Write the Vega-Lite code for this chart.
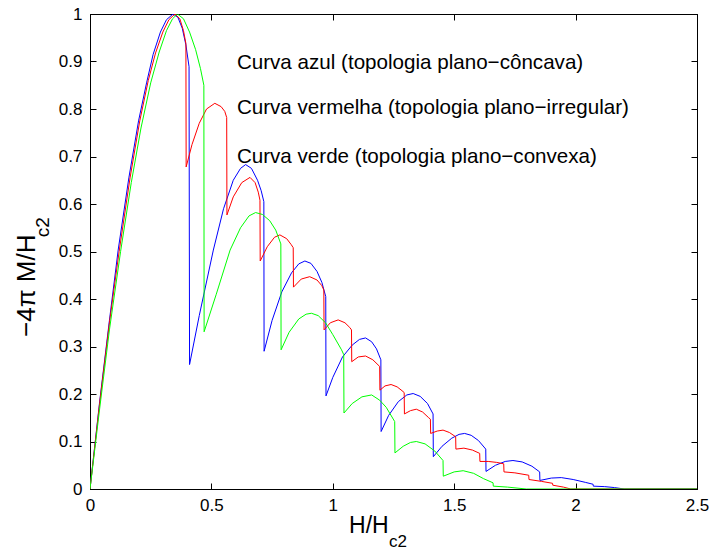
{
  "$schema": "https://vega.github.io/schema/vega-lite/v6.json",
  "width": 607,
  "height": 475,
  "autosize": {"type": "none"},
  "padding": {"left": 90, "top": 14, "right": 15, "bottom": 67},
  "background": "white",
  "config": {
    "view": {"stroke": "black", "strokeWidth": 1},
    "font": "Liberation Sans",
    "axis": {"grid": false, "labelFont": "Liberation Sans", "labelColor": "black", "labelFontSize": 17, "tickColor": "black", "domainColor": "black", "domainWidth": 1, "tickWidth": 1, "labelFlush": false, "labelOverlap": false, "title": null}
  },
  "datasets": {
    "blue": [
      {"h":0,"m":0},{"h":0.04,"m":0.185},{"h":0.08,"m":0.355},{"h":0.116,"m":0.503},{"h":0.16,"m":0.655},{"h":0.2,"m":0.775},{"h":0.233,"m":0.855},{"h":0.26,"m":0.915},{"h":0.29,"m":0.962},{"h":0.315,"m":0.988},{"h":0.342,"m":1.0},{"h":0.362,"m":0.993},{"h":0.38,"m":0.97},{"h":0.395,"m":0.935},{"h":0.408,"m":0.889},
      {"h":0.41,"m":0.262},{"h":0.45,"m":0.365},{"h":0.508,"m":0.503},{"h":0.55,"m":0.59},{"h":0.59,"m":0.65},{"h":0.62,"m":0.675},{"h":0.641,"m":0.683},{"h":0.665,"m":0.675},{"h":0.69,"m":0.65},{"h":0.705,"m":0.628},{"h":0.716,"m":0.605},
      {"h":0.717,"m":0.29},{"h":0.75,"m":0.355},{"h":0.79,"m":0.415},{"h":0.83,"m":0.455},{"h":0.86,"m":0.474},{"h":0.885,"m":0.48},{"h":0.91,"m":0.475},{"h":0.935,"m":0.458},{"h":0.955,"m":0.435},{"h":0.971,"m":0.405},
      {"h":0.972,"m":0.196},{"h":1.0,"m":0.235},{"h":1.04,"m":0.278},{"h":1.08,"m":0.303},{"h":1.11,"m":0.315},{"h":1.135,"m":0.318},{"h":1.16,"m":0.31},{"h":1.18,"m":0.295},{"h":1.198,"m":0.272},
      {"h":1.199,"m":0.121},{"h":1.23,"m":0.155},{"h":1.27,"m":0.184},{"h":1.305,"m":0.198},{"h":1.331,"m":0.201},{"h":1.36,"m":0.195},{"h":1.39,"m":0.18},{"h":1.413,"m":0.158},
      {"h":1.414,"m":0.068},{"h":1.45,"m":0.09},{"h":1.49,"m":0.107},{"h":1.52,"m":0.115},{"h":1.543,"m":0.117},{"h":1.57,"m":0.113},{"h":1.6,"m":0.102},{"h":1.63,"m":0.084},
      {"h":1.631,"m":0.037},{"h":1.67,"m":0.05},{"h":1.71,"m":0.058},{"h":1.742,"m":0.06},{"h":1.78,"m":0.057},{"h":1.82,"m":0.048},{"h":1.852,"m":0.036},
      {"h":1.853,"m":0.018},{"h":1.9,"m":0.023},{"h":1.941,"m":0.024},{"h":1.99,"m":0.02},{"h":2.04,"m":0.014},{"h":2.072,"m":0.01},{"h":2.073,"m":0.006},{"h":2.12,"m":0.005},{"h":2.16,"m":0.003},{"h":2.2,"m":0},{"h":2.5,"m":0}
    ],
    "red": [
      {"h":0,"m":0},{"h":0.04,"m":0.182},{"h":0.08,"m":0.35},{"h":0.12,"m":0.5},{"h":0.165,"m":0.655},{"h":0.205,"m":0.775},{"h":0.24,"m":0.86},{"h":0.27,"m":0.918},{"h":0.3,"m":0.962},{"h":0.325,"m":0.988},{"h":0.35,"m":1.0},{"h":0.37,"m":0.99},{"h":0.385,"m":0.965},{"h":0.395,"m":0.938},
      {"h":0.396,"m":0.678},{"h":0.42,"m":0.725},{"h":0.45,"m":0.77},{"h":0.48,"m":0.8},{"h":0.514,"m":0.812},{"h":0.54,"m":0.805},{"h":0.555,"m":0.795},{"h":0.563,"m":0.782},
      {"h":0.564,"m":0.577},{"h":0.59,"m":0.615},{"h":0.625,"m":0.645},{"h":0.659,"m":0.656},{"h":0.68,"m":0.645},{"h":0.693,"m":0.625},{"h":0.7,"m":0.608},
      {"h":0.701,"m":0.48},{"h":0.73,"m":0.51},{"h":0.76,"m":0.53},{"h":0.782,"m":0.535},{"h":0.81,"m":0.527},{"h":0.828,"m":0.515},{"h":0.837,"m":0.508},
      {"h":0.838,"m":0.425},{"h":0.87,"m":0.442},{"h":0.905,"m":0.447},{"h":0.935,"m":0.44},{"h":0.955,"m":0.428},{"h":0.963,"m":0.419},
      {"h":0.964,"m":0.335},{"h":0.99,"m":0.35},{"h":1.022,"m":0.356},{"h":1.05,"m":0.35},{"h":1.07,"m":0.34},{"h":1.077,"m":0.335},
      {"h":1.078,"m":0.268},{"h":1.105,"m":0.278},{"h":1.135,"m":0.28},{"h":1.165,"m":0.272},{"h":1.193,"m":0.258},
      {"h":1.194,"m":0.208},{"h":1.215,"m":0.217},{"h":1.24,"m":0.22},{"h":1.265,"m":0.215},{"h":1.285,"m":0.207},{"h":1.294,"m":0.203},
      {"h":1.295,"m":0.158},{"h":1.32,"m":0.165},{"h":1.344,"m":0.168},{"h":1.37,"m":0.162},{"h":1.395,"m":0.15},{"h":1.402,"m":0.147},
      {"h":1.403,"m":0.117},{"h":1.43,"m":0.122},{"h":1.454,"m":0.124},{"h":1.48,"m":0.119},{"h":1.506,"m":0.11},
      {"h":1.507,"m":0.084},{"h":1.54,"m":0.086},{"h":1.575,"m":0.082},{"h":1.605,"m":0.075},
      {"h":1.606,"m":0.058},{"h":1.64,"m":0.058},{"h":1.675,"m":0.056},{"h":1.704,"m":0.053},
      {"h":1.705,"m":0.036},{"h":1.75,"m":0.034},{"h":1.807,"m":0.029},
      {"h":1.808,"m":0.02},{"h":1.86,"m":0.016},{"h":1.905,"m":0.012},{"h":1.906,"m":0.008},{"h":1.95,"m":0.004},{"h":1.98,"m":0},{"h":2.5,"m":0}
    ],
    "green": [
      {"h":0,"m":0},{"h":0.04,"m":0.17},{"h":0.08,"m":0.335},{"h":0.126,"m":0.5},{"h":0.17,"m":0.645},{"h":0.21,"m":0.76},{"h":0.25,"m":0.855},{"h":0.285,"m":0.92},{"h":0.315,"m":0.965},{"h":0.34,"m":0.99},{"h":0.36,"m":1.0},{"h":0.385,"m":0.99},{"h":0.41,"m":0.962},{"h":0.435,"m":0.925},{"h":0.455,"m":0.885},{"h":0.469,"m":0.85},
      {"h":0.47,"m":0.331},{"h":0.52,"m":0.41},{"h":0.577,"m":0.503},{"h":0.62,"m":0.55},{"h":0.655,"m":0.575},{"h":0.682,"m":0.582},{"h":0.71,"m":0.578},{"h":0.74,"m":0.565},{"h":0.765,"m":0.545},{"h":0.786,"m":0.516},
      {"h":0.787,"m":0.293},{"h":0.82,"m":0.33},{"h":0.86,"m":0.358},{"h":0.89,"m":0.368},{"h":0.912,"m":0.37},{"h":0.94,"m":0.365},{"h":0.97,"m":0.35},{"h":1.0,"m":0.325},{"h":1.036,"m":0.293},{"h":1.045,"m":0.283},
      {"h":1.046,"m":0.16},{"h":1.08,"m":0.18},{"h":1.12,"m":0.194},{"h":1.16,"m":0.198},{"h":1.193,"m":0.187},{"h":1.22,"m":0.172},{"h":1.255,"m":0.142},
      {"h":1.256,"m":0.076},{"h":1.29,"m":0.09},{"h":1.32,"m":0.098},{"h":1.344,"m":0.1},{"h":1.38,"m":0.095},{"h":1.42,"m":0.08},{"h":1.454,"m":0.06},
      {"h":1.455,"m":0.027},{"h":1.5,"m":0.036},{"h":1.537,"m":0.0385},{"h":1.58,"m":0.033},{"h":1.62,"m":0.022},{"h":1.66,"m":0.013},{"h":1.661,"m":0.006},{"h":1.72,"m":0.004},{"h":1.797,"m":0},{"h":2.5,"m":0}
    ],
    "labels": [
      {"h":0.605,"m":0.897,"t":"Curva azul (topologia plano−côncava)"},
      {"h":0.605,"m":0.802,"t":"Curva vermelha (topologia plano−irregular)"},
      {"h":0.605,"m":0.699,"t":"Curva verde (topologia plano−convexa)"}
    ],
    "xtitle": [{"h":1.067,"m":-0.0926,"t":"H/H"}],
    "xsub": [{"h":1.231,"m":-0.122,"t":"c2"}],
    "ytitle": [{"h":-0.2265,"m":0.32,"t":"−4π M/H"}],
    "ysub": [{"h":-0.169,"m":0.53,"t":"c2"}]
  },
  "layer": [
    {
      "data": {"name": "blue"},
      "mark": {"type": "line", "color": "#0000ff", "strokeWidth": 1, "clip": true},
      "encoding": {
        "x": {"field": "h", "type": "quantitative", "scale": {"domain": [0, 2.5], "nice": false, "zero": false},
              "axis": {"orient": "bottom", "values": [0, 0.5, 1, 1.5, 2, 2.5], "format": "~g", "tickSize": -6, "labelPadding": 14}},
        "y": {"field": "m", "type": "quantitative", "scale": {"domain": [0, 1], "nice": false, "zero": false},
              "axis": {"orient": "left", "values": [0, 0.1, 0.2, 0.3, 0.4, 0.5, 0.6, 0.7, 0.8, 0.9, 1], "format": "~g", "tickSize": -6, "labelPadding": 14}}
      }
    },
    {
      "data": {"name": "red"},
      "mark": {"type": "line", "color": "#ff0000", "strokeWidth": 1, "clip": true},
      "encoding": {
        "x": {"field": "h", "type": "quantitative", "axis": {"orient": "top", "values": [0, 0.5, 1, 1.5, 2, 2.5], "labels": false, "tickSize": -6}},
        "y": {"field": "m", "type": "quantitative", "axis": {"orient": "right", "values": [0, 0.1, 0.2, 0.3, 0.4, 0.5, 0.6, 0.7, 0.8, 0.9, 1], "labels": false, "tickSize": -6}}
      }
    },
    {
      "data": {"name": "green"},
      "mark": {"type": "line", "color": "#00ff00", "strokeWidth": 1, "clip": true},
      "encoding": {
        "x": {"field": "h", "type": "quantitative", "axis": null},
        "y": {"field": "m", "type": "quantitative", "axis": null}
      }
    },
    {
      "data": {"name": "labels"},
      "mark": {"type": "text", "align": "left", "baseline": "middle", "fontSize": 20.6, "color": "black", "font": "Liberation Sans"},
      "encoding": {
        "x": {"field": "h", "type": "quantitative", "axis": null},
        "y": {"field": "m", "type": "quantitative", "axis": null},
        "text": {"field": "t"}
      }
    },
    {
      "data": {"name": "xtitle"},
      "mark": {"type": "text", "align": "left", "baseline": "alphabetic", "fontSize": 23, "color": "black", "font": "Liberation Sans"},
      "encoding": {
        "x": {"field": "h", "type": "quantitative", "axis": null},
        "y": {"field": "m", "type": "quantitative", "axis": null},
        "text": {"field": "t"}
      }
    },
    {
      "data": {"name": "xsub"},
      "mark": {"type": "text", "align": "left", "baseline": "alphabetic", "fontSize": 17, "color": "black", "font": "Liberation Sans"},
      "encoding": {
        "x": {"field": "h", "type": "quantitative", "axis": null},
        "y": {"field": "m", "type": "quantitative", "axis": null},
        "text": {"field": "t"}
      }
    },
    {
      "data": {"name": "ytitle"},
      "mark": {"type": "text", "align": "left", "baseline": "alphabetic", "angle": 270, "fontSize": 26, "color": "black", "font": "Liberation Sans"},
      "encoding": {
        "x": {"field": "h", "type": "quantitative", "axis": null},
        "y": {"field": "m", "type": "quantitative", "axis": null},
        "text": {"field": "t"}
      }
    },
    {
      "data": {"name": "ysub"},
      "mark": {"type": "text", "align": "left", "baseline": "alphabetic", "angle": 270, "fontSize": 19, "color": "black", "font": "Liberation Sans"},
      "encoding": {
        "x": {"field": "h", "type": "quantitative", "axis": null},
        "y": {"field": "m", "type": "quantitative", "axis": null},
        "text": {"field": "t"}
      }
    }
  ],
  "resolve": {"axis": {"x": "independent", "y": "independent"}}
}
